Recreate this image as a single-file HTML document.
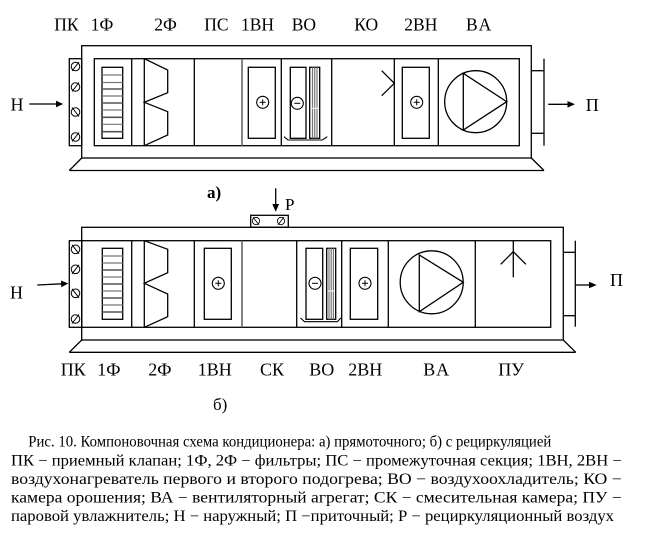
<!DOCTYPE html>
<html><head><meta charset="utf-8"><style>
html,body{margin:0;padding:0;background:#fff;}
svg{display:block;}
text{font-family:"Liberation Serif","DejaVu Serif",serif;fill:#000;}
</style></head><body>
<svg width="651" height="539" viewBox="0 0 651 539" xmlns="http://www.w3.org/2000/svg">
<defs>
<g id="dmp"><circle cx="0" cy="0" r="4.3" fill="none" stroke="#000" stroke-width="1"/><line x1="-3.5" y1="4.5" x2="3.5" y2="-4.5" stroke="#000" stroke-width="1"/></g>
<g id="dmp2"><circle cx="0" cy="0" r="4.3" fill="none" stroke="#000" stroke-width="1"/><line x1="-3.5" y1="-4.5" x2="3.5" y2="4.5" stroke="#000" stroke-width="1"/></g>
<g id="plus"><circle cx="0" cy="0" r="6" fill="#fff" stroke="#000" stroke-width="1.1"/><line x1="-3" y1="0" x2="3" y2="0" stroke="#000" stroke-width="1"/><line x1="0" y1="-3" x2="0" y2="3" stroke="#000" stroke-width="1"/></g>
<g id="minus"><circle cx="0" cy="0" r="6" fill="#fff" stroke="#000" stroke-width="1.1"/><line x1="-3" y1="0" x2="3" y2="0" stroke="#000" stroke-width="1"/></g>
</defs>

<!-- ============ Diagram a ============ -->
<g fill="none" stroke="#000" stroke-width="1.3">
<rect x="81.7" y="45.7" width="449.6" height="112.3"/>
<rect x="94.3" y="58.7" width="425" height="87"/>
<rect x="69.3" y="58.7" width="12.4" height="87"/>
<line x1="131.7" y1="58.7" x2="131.7" y2="145.7"/>
<line x1="194.3" y1="58.7" x2="194.3" y2="145.7"/>
<line x1="242" y1="58.7" x2="242" y2="145.7" stroke="#666" stroke-width="1.6"/>
<line x1="281.3" y1="58.7" x2="281.3" y2="145.7"/>
<line x1="331.7" y1="58.7" x2="331.7" y2="145.7"/>
<line x1="394.3" y1="58.7" x2="394.3" y2="145.7"/>
<line x1="438.3" y1="58.7" x2="438.3" y2="145.7"/>
<!-- base -->
<line x1="81.7" y1="158" x2="69.3" y2="170.5"/>
<line x1="69.3" y1="170.5" x2="544" y2="170.5"/>
<line x1="531.3" y1="158" x2="544" y2="170.5"/>
<!-- filter 1 -->
<rect x="102" y="67.3" width="20.7" height="71"/>
<!-- filter 2 -->
<line x1="144.3" y1="58.7" x2="144.3" y2="145.7"/>
<polyline points="144.3,58.7 167.7,70 167.7,92.7 144.3,102.3 167.7,111.7 167.7,135 144.3,145.7"/>
<!-- 1ВН -->
<rect x="248.3" y="67.3" width="27" height="71"/>
<!-- ВО -->
<rect x="290.3" y="67.3" width="15.7" height="71"/>
<rect x="309.7" y="67.3" width="10" height="71"/>
<polyline points="284,136.7 288,140 322.3,140 327.3,136.7" stroke-width="1.1"/>
<!-- КО -->
<polyline points="381.7,70.7 394.3,83.3 381.7,95.7"/>
<!-- 2ВН -->
<rect x="402.3" y="67.3" width="27" height="71"/>
<!-- ВА -->
<circle cx="475.7" cy="101.7" r="31"/>
<polygon points="463.3,73.3 463.3,130 506.7,101.7"/>
<!-- outlet -->
<line x1="531.3" y1="70.7" x2="544" y2="70.7"/>
<line x1="531.3" y1="133.3" x2="544" y2="133.3"/>
<line x1="544" y1="58.7" x2="544" y2="145.7"/>
<line x1="548.3" y1="104.3" x2="569" y2="104.3"/>
<!-- inlet arrow -->
<line x1="29.3" y1="104" x2="57" y2="104"/>
</g>
<g stroke="#777" stroke-width="1.2">
<line x1="102" y1="75" x2="122.7" y2="75"/><line x1="102" y1="82.5" x2="122.7" y2="82.5"/>
<line x1="102" y1="89" x2="122.7" y2="89" stroke="#555" stroke-width="1.6"/><line x1="102" y1="96" x2="122.7" y2="96"/>
<line x1="102" y1="103" x2="122.7" y2="103" stroke="#555" stroke-width="1.6"/><line x1="102" y1="110" x2="122.7" y2="110"/>
<line x1="102" y1="117.3" x2="122.7" y2="117.3" stroke="#555" stroke-width="1.6"/><line x1="102" y1="124.3" x2="122.7" y2="124.3"/>
<line x1="102" y1="131.7" x2="122.7" y2="131.7" stroke="#555" stroke-width="1.6"/>
<line x1="312.5" y1="67.3" x2="312.5" y2="138.3"/><line x1="314.7" y1="67.3" x2="314.7" y2="138.3"/><line x1="317" y1="67.3" x2="317" y2="138.3"/>
</g>
<line x1="310.5" y1="108.3" x2="319" y2="108.3" stroke="#fff" stroke-width="1"/>
<polygon points="63.3,104 56,100.7 56,107.3" fill="#000"/>
<polygon points="575,104.3 567.5,101 567.5,107.6" fill="#000"/>
<use href="#dmp" x="75.5" y="66.5"/><use href="#dmp" x="75.5" y="87"/><use href="#dmp2" x="75.5" y="112"/><use href="#dmp" x="75.5" y="137"/>
<use href="#plus" x="262.7" y="102.3"/>
<use href="#minus" x="297.3" y="103.3"/>
<use href="#plus" x="416.7" y="102.3"/>

<!-- labels a -->
<g font-size="17.5">
<text x="54.3" y="30.7">ПК</text>
<text x="90.7" y="30.7">1Ф</text>
<text x="154.3" y="30.7">2Ф</text>
<text x="204.3" y="30.7">ПС</text>
<text x="241" y="30.7">1ВН</text>
<text x="291.7" y="30.7">ВО</text>
<text x="354.3" y="30.7">КО</text>
<text x="404.3" y="30.7">2ВН</text>
<text x="466" y="30.7" letter-spacing="2">ВА</text>
<text x="10.5" y="110.7" font-size="18">Н</text>
<text x="585.7" y="111" font-size="18">П</text>
</g>
<text x="207" y="198" font-size="17" font-weight="bold">а)</text>

<!-- ============ Diagram b ============ -->
<g fill="none" stroke="#000" stroke-width="1.3">
<rect x="81.7" y="227.3" width="481.6" height="112.7"/>
<rect x="81.7" y="240.7" width="469" height="86.6"/>
<rect x="69.3" y="240.7" width="12.4" height="86.6"/>
<rect x="250.7" y="215.3" width="37.6" height="12"/>
<line x1="131.7" y1="240.7" x2="131.7" y2="327.3"/>
<line x1="194.3" y1="240.7" x2="194.3" y2="327.3"/>
<line x1="242" y1="240.7" x2="242" y2="327.3" stroke="#666" stroke-width="1.6"/>
<line x1="296.7" y1="240.7" x2="296.7" y2="327.3"/>
<line x1="341.7" y1="240.7" x2="341.7" y2="327.3"/>
<line x1="388.3" y1="240.7" x2="388.3" y2="327.3"/>
<line x1="475.3" y1="240.7" x2="475.3" y2="327.3"/>
<!-- base -->
<line x1="81.7" y1="340" x2="69.3" y2="352.3"/>
<line x1="69.3" y1="352.3" x2="575.7" y2="352.3"/>
<line x1="563.3" y1="340" x2="575.7" y2="352.3"/>
<!-- filter 1 -->
<rect x="102.3" y="248.3" width="20.4" height="71"/>
<!-- filter 2 -->
<line x1="144.3" y1="240.7" x2="144.3" y2="327.3"/>
<polyline points="144.3,240.7 167.7,249.3 167.7,272.7 144.3,283.3 167.7,294 167.7,316.7 144.3,327.3"/>
<!-- 1ВН -->
<rect x="204.3" y="248.3" width="27" height="71"/>
<!-- ВО -->
<rect x="306" y="248.3" width="16.7" height="71"/>
<rect x="326.7" y="248.3" width="9" height="71"/>
<polyline points="300.5,318 304.5,321.7 337.5,321.7 340.7,318" stroke-width="1.1"/>
<!-- 2ВН -->
<rect x="350.3" y="248.3" width="27.4" height="71"/>
<!-- ВА -->
<circle cx="431.7" cy="282.3" r="31.5"/>
<polygon points="419.3,255 419.3,311.7 463.3,282.3"/>
<!-- ПУ -->
<line x1="513.3" y1="240.7" x2="513.3" y2="277.3"/>
<polyline points="500.7,264.3 513.3,251.7 525.9,264.3"/>
<!-- outlet -->
<line x1="563.3" y1="252.3" x2="575.3" y2="252.3"/>
<line x1="563.3" y1="315.7" x2="575.3" y2="315.7"/>
<line x1="575.3" y1="240.7" x2="575.3" y2="326.7"/>
<line x1="575.3" y1="285" x2="590" y2="285"/>
<!-- inlet arrow -->
<line x1="37.3" y1="285" x2="62" y2="283.8"/>
<!-- Р arrow -->
<line x1="275.7" y1="188.3" x2="275.7" y2="205"/>
</g>
<g stroke="#777" stroke-width="1.2">
<line x1="102.3" y1="256" x2="122.7" y2="256"/><line x1="102.3" y1="263" x2="122.7" y2="263"/>
<line x1="102.3" y1="270" x2="122.7" y2="270" stroke="#555" stroke-width="1.6"/><line x1="102.3" y1="277" x2="122.7" y2="277"/>
<line x1="102.3" y1="284" x2="122.7" y2="284" stroke="#555" stroke-width="1.6"/><line x1="102.3" y1="291" x2="122.7" y2="291"/>
<line x1="102.3" y1="298" x2="122.7" y2="298" stroke="#555" stroke-width="1.6"/><line x1="102.3" y1="305" x2="122.7" y2="305"/>
<line x1="102.3" y1="312" x2="122.7" y2="312" stroke="#555" stroke-width="1.6"/>
<line x1="329" y1="248.3" x2="329" y2="319.3"/><line x1="331.2" y1="248.3" x2="331.2" y2="319.3"/><line x1="333.4" y1="248.3" x2="333.4" y2="319.3"/>
</g>
<line x1="327.5" y1="291" x2="335" y2="291" stroke="#fff" stroke-width="1"/>
<polygon points="68.3,283.5 61,280.5 61.3,287.2" fill="#000"/>
<polygon points="596.7,285 589,281.7 589,288.3" fill="#000"/>
<polygon points="275.7,211.7 272.3,204 279.1,204" fill="#000"/>
<use href="#dmp2" x="75.5" y="249.3"/><use href="#dmp" x="75.5" y="269.3"/><use href="#dmp2" x="75.5" y="293.3"/><use href="#dmp" x="75.5" y="319"/>
<g transform="translate(256,221) scale(0.85)"><use href="#dmp2"/></g>
<g transform="translate(281,221) scale(0.85)"><use href="#dmp"/></g>
<use href="#plus" x="218.3" y="283.3"/>
<use href="#minus" x="315" y="283.3"/>
<use href="#plus" x="365" y="283.3"/>

<!-- labels b -->
<g font-size="18">
<text x="60.7" y="375.7">ПК</text>
<text x="97.3" y="375.7">1Ф</text>
<text x="148.3" y="375.7">2Ф</text>
<text x="197.7" y="375.7">1ВН</text>
<text x="260" y="375.7">СК</text>
<text x="309.3" y="375.7">ВО</text>
<text x="348.3" y="375.7">2ВН</text>
<text x="423.3" y="375.7" letter-spacing="2">ВА</text>
<text x="498.3" y="375.7">ПУ</text>
<text x="10" y="298.3">Н</text>
<text x="610" y="286">П</text>
<text x="285" y="210" font-size="17">Р</text>
<text x="213" y="410" font-size="17">б)</text>
</g>

<!-- caption -->
<g font-size="15.5">
<text x="28.3" y="446.5" textLength="523" lengthAdjust="spacingAndGlyphs">Рис. 10. Компоновочная схема кондиционера: а) прямоточного; б) с рециркуляцией</text>
<text x="11" y="465.5" textLength="610.7" lengthAdjust="spacingAndGlyphs">ПК − приемный клапан;  1Ф, 2Ф − фильтры; ПС − промежуточная секция; 1ВН, 2ВН −</text>
<text x="11" y="484" textLength="610.7" lengthAdjust="spacingAndGlyphs">воздухонагреватель  первого  и  второго  подогрева;  ВО  −  воздухоохладитель;  КО  −</text>
<text x="11" y="502.5" textLength="610.7" lengthAdjust="spacingAndGlyphs">камера  орошения;  ВА  −  вентиляторный  агрегат;  СК  −  смесительная  камера;  ПУ  −</text>
<text x="11" y="521" textLength="603" lengthAdjust="spacingAndGlyphs">паровой увлажнитель; Н − наружный; П −приточный; Р − рециркуляционный воздух</text>
</g>
</svg>
</body></html>
